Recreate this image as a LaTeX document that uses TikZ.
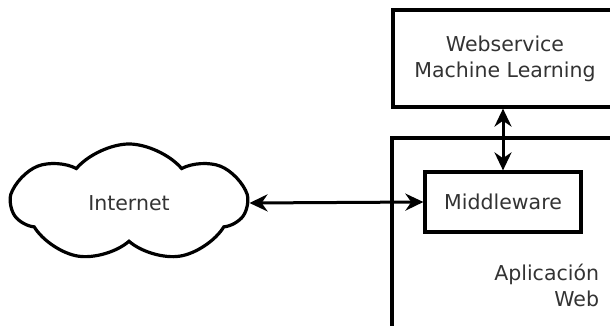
\documentclass[tikz,border=0pt]{standalone}
\usepackage{fontspec}
\setmainfont{DejaVu Sans}
\usetikzlibrary{shapes.symbols, arrows.meta}

\begin{document}
\begin{tikzpicture}[x=1pt, y=-1pt, line width=3.2pt,
    box/.style={draw, rectangle, inner sep=0pt},
    lbl/.style={text=black!80, font=\fontsize{20.5}{26}\selectfont, align=center},
    bi/.style={{Stealth[length=18pt,width=17pt]}-{Stealth[length=18pt,width=17pt]}, line width=3pt}]
  \useasboundingbox (0,0) rectangle (610,326);
  \node[box, lbl, minimum width=224pt, minimum height=97pt] (ws) at (505,58.5) {Webservice\\Machine Learning};
  \node[box, minimum width=230pt, minimum height=200pt] (app) at (507,238) {};
  \node[box, lbl, minimum width=156pt, minimum height=60pt] (mw) at (503,202) {Middleware};
  \node[lbl, align=right, anchor=north east] (apptxt) at (604,259) {Aplicación\\Web};
  \node[cloud, draw, lbl, cloud puffs=7, cloud puff arc=100, aspect=2.1, minimum width=234pt, minimum height=118pt] (net) at (129,203) {Internet};
  \draw[bi] (net.east) -- (mw.west);
  \draw[bi] (mw.north |- ws.south) -- (mw.north);
\end{tikzpicture}
\end{document}
